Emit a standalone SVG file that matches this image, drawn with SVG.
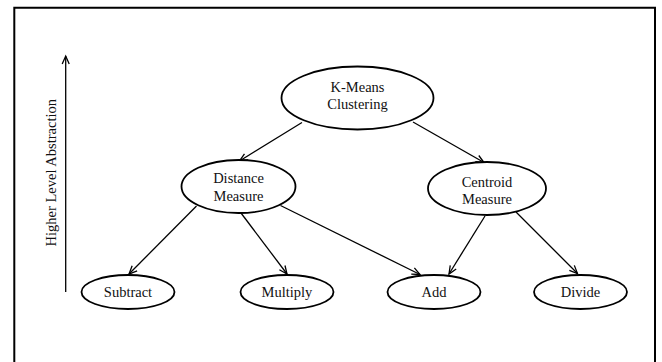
<svg xmlns="http://www.w3.org/2000/svg" width="662" height="362" viewBox="0 0 662 362">
  <style>
    .node ellipse { fill: #ffffff; stroke: #000000; stroke-width: 1.8; }
    .node text, .label { font-family: "Liberation Serif", "Times New Roman", serif; font-size: 14.5px; fill: #111111; text-anchor: middle; }
    .conn line { stroke: #000000; stroke-width: 1.3; marker-end: url(#arrow); }
  </style>
  <defs>
    <marker id="arrow" markerUnits="userSpaceOnUse" viewBox="-10 -5 12 10" refX="0" refY="0" markerWidth="12" markerHeight="10" orient="auto">
      <path d="M-8,-3.5 L0,0 L-8,3.5" fill="none" stroke="#000000" stroke-width="1.3"/>
    </marker>
  </defs>
  <rect x="0" y="0" width="662" height="362" fill="#ffffff"/>
  <path id="frame" d="M14.3,370 V7.7 H655 V370" fill="none" stroke="#000000" stroke-width="2"/>

  <g id="axis">
    <g class="conn"><line x1="65.7" y1="292" x2="65.7" y2="56"/></g>
    <text class="label" transform="translate(55.5,172.7) rotate(-90)">Higher Level Abstraction</text>
  </g>

  <g id="connectors" class="conn">
    <line x1="302" y1="122.5" x2="239.5" y2="161"/>
    <line x1="413" y1="122" x2="484" y2="162.5"/>
    <line x1="196.5" y1="206" x2="129" y2="274"/>
    <line x1="239.5" y1="211" x2="287" y2="274"/>
    <line x1="280.5" y1="205.5" x2="420" y2="274.5"/>
    <line x1="485" y1="216" x2="449" y2="274"/>
    <line x1="516" y1="212" x2="577.5" y2="273.5"/>
  </g>

  <g id="kmeans" class="node">
    <ellipse cx="357.5" cy="98" rx="76" ry="31.5"/>
    <text x="357.5" y="92">K-Means</text>
    <text x="357.5" y="109">Clustering</text>
  </g>
  <g id="distance" class="node">
    <ellipse cx="238.5" cy="186.5" rx="57" ry="26.5"/>
    <text x="238.5" y="183">Distance</text>
    <text x="238.5" y="201">Measure</text>
  </g>
  <g id="centroid" class="node">
    <ellipse cx="487" cy="188.5" rx="59" ry="26.5"/>
    <text x="487" y="186.5">Centroid</text>
    <text x="487" y="203.5">Measure</text>
  </g>
  <g id="subtract" class="node">
    <ellipse cx="128" cy="292" rx="46.5" ry="17"/>
    <text x="128" y="297">Subtract</text>
  </g>
  <g id="multiply" class="node">
    <ellipse cx="287" cy="292" rx="46.5" ry="17"/>
    <text x="287" y="297">Multiply</text>
  </g>
  <g id="add" class="node">
    <ellipse cx="434" cy="292" rx="46.5" ry="17"/>
    <text x="434" y="297">Add</text>
  </g>
  <g id="divide" class="node">
    <ellipse cx="580.5" cy="292" rx="46.5" ry="17"/>
    <text x="580.5" y="297">Divide</text>
  </g>
</svg>
